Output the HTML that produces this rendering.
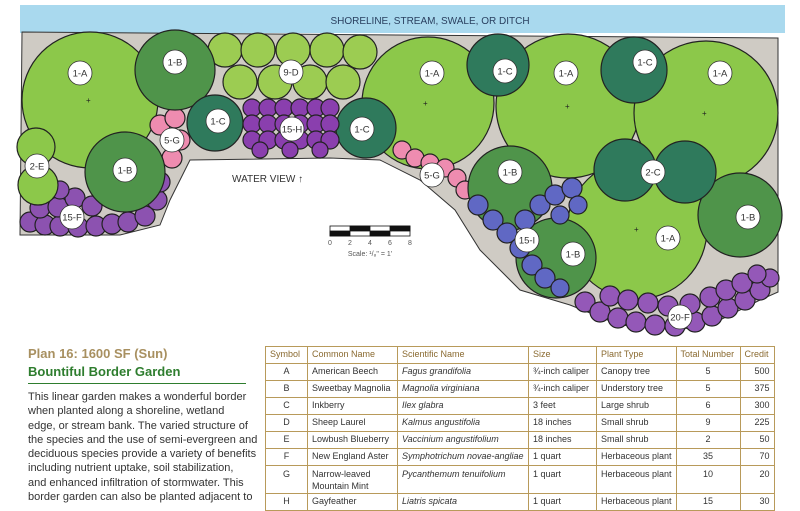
<!DOCTYPE html>
<html><head><meta charset="utf-8"><style>
body{margin:0;width:800px;height:500px;overflow:hidden;background:#fff;font-family:"Liberation Sans",sans-serif;position:relative}
svg{position:absolute;left:0;top:0}
.t1{position:absolute;left:28px;top:346px;font-size:13px;font-weight:bold;color:#a89060}
.t2{position:absolute;left:28px;top:364px;font-size:13px;font-weight:bold;color:#2e7d2e}
.ln{position:absolute;left:28px;top:383px;width:218px;height:1px;background:#2e7d2e}
.body{position:absolute;left:28px;top:390px;width:230px;font-size:11px;line-height:14.3px;color:#333;white-space:nowrap}
table{position:absolute;left:265px;top:346px;border-collapse:collapse;font-size:9px;color:#333;table-layout:fixed}
td,th{border:1px solid #b89a5a;padding:0 4px;height:16px;vertical-align:top;line-height:15px;white-space:nowrap;overflow:hidden;box-sizing:border-box}
tr{height:17px}
th{font-weight:normal;color:#8a6a30;text-align:left}
td.c{text-align:center}td.r{text-align:right}i{font-style:italic}
tr.g td{line-height:12px;padding-top:2px;height:28px}
</style></head><body>
<svg width="800" height="345" viewBox="0 0 800 345">
<rect x="0" y="0" width="800" height="345" fill="#fff"/>
<rect x="20" y="5" width="765" height="28" fill="#a9d9ee"/>
<text x="430" y="24" font-size="10" fill="#2a4060" text-anchor="middle" font-family="Liberation Sans">SHORELINE, STREAM, SWALE, OR DITCH</text>
<path d="M22,32 L778,38 L778,292 L760,300 L720,320 L680,330 L620,325 L570,305 L520,290 L480,250 L455,210 L420,180 L380,160 L330,158 L190,160 L170,200 L160,225 L120,235 L20,235 Z" fill="#cfcbc4" stroke="#333" stroke-width="1"/>
<g stroke="#222" stroke-width="1.2">
<g fill="#8c52b0">
<circle cx="30" cy="222" r="10"/><circle cx="45" cy="225" r="10"/><circle cx="60" cy="226" r="10"/><circle cx="78" cy="227" r="10"/><circle cx="96" cy="226" r="10"/><circle cx="112" cy="224" r="10"/><circle cx="128" cy="222" r="10"/><circle cx="145" cy="216" r="10"/><circle cx="157" cy="200" r="10"/><circle cx="160" cy="182" r="10"/>
<circle cx="40" cy="208" r="10"/><circle cx="58" cy="207" r="10"/><circle cx="75" cy="198" r="10"/><circle cx="92" cy="206" r="10"/><circle cx="60" cy="190" r="9"/></g>
<g fill="#8cc84a">
<circle cx="90" cy="100" r="68"/>
<circle cx="428" cy="103" r="66"/>
<circle cx="568" cy="106" r="72"/>
<circle cx="706" cy="113" r="72"/>
<circle cx="637" cy="229" r="70"/>
<circle cx="36" cy="147" r="19"/><circle cx="38" cy="185" r="20"/>
</g>
<g fill="#9ccc52">
<circle cx="225" cy="50" r="17"/><circle cx="258" cy="50" r="17"/><circle cx="293" cy="50" r="17"/><circle cx="327" cy="50" r="17"/><circle cx="360" cy="52" r="17"/>
<circle cx="240" cy="82" r="17"/><circle cx="275" cy="82" r="17"/><circle cx="310" cy="82" r="17"/><circle cx="343" cy="82" r="17"/></g>
<g fill="#ee8cb0">
<circle cx="160" cy="125" r="10"/><circle cx="175" cy="118" r="10"/><circle cx="180" cy="140" r="10"/><circle cx="172" cy="158" r="10"/>
<circle cx="402" cy="150" r="9"/><circle cx="415" cy="158" r="9"/><circle cx="430" cy="163" r="9"/><circle cx="445" cy="168" r="9"/><circle cx="457" cy="178" r="9"/><circle cx="465" cy="190" r="9"/></g>
<g fill="#4f944a">
<circle cx="175" cy="70" r="40"/>
<circle cx="125" cy="172" r="40"/>
<circle cx="510" cy="188" r="42"/>
<circle cx="740" cy="215" r="42"/>
<circle cx="556" cy="258" r="40"/></g>
<g fill="#2f7a5c">
<circle cx="215" cy="123" r="28"/>
<circle cx="366" cy="128" r="30"/>
<circle cx="498" cy="65" r="31"/>
<circle cx="634" cy="70" r="33"/>
<circle cx="625" cy="170" r="31"/>
<circle cx="685" cy="172" r="31"/></g>
<g fill="#8a3fae">
<circle cx="252" cy="108" r="9"/><circle cx="268" cy="108" r="9"/><circle cx="284" cy="108" r="9"/><circle cx="300" cy="108" r="9"/><circle cx="316" cy="108" r="9"/><circle cx="330" cy="108" r="9"/>
<circle cx="252" cy="124" r="9"/><circle cx="268" cy="124" r="9"/><circle cx="284" cy="124" r="9"/><circle cx="300" cy="124" r="9"/><circle cx="316" cy="124" r="9"/><circle cx="330" cy="124" r="9"/>
<circle cx="252" cy="140" r="9"/><circle cx="268" cy="140" r="9"/><circle cx="284" cy="140" r="9"/><circle cx="300" cy="140" r="9"/><circle cx="316" cy="140" r="9"/><circle cx="330" cy="140" r="9"/>
<circle cx="260" cy="150" r="8"/><circle cx="290" cy="150" r="8"/><circle cx="320" cy="150" r="8"/></g>
<g fill="#6068c4">
<circle cx="478" cy="205" r="10"/><circle cx="493" cy="220" r="10"/><circle cx="507" cy="233" r="10"/><circle cx="520" cy="248" r="10"/><circle cx="532" cy="265" r="10"/><circle cx="545" cy="278" r="10"/><circle cx="560" cy="288" r="9"/>
<circle cx="525" cy="220" r="10"/><circle cx="540" cy="205" r="10"/><circle cx="555" cy="195" r="10"/><circle cx="572" cy="188" r="10"/><circle cx="578" cy="205" r="9"/><circle cx="560" cy="215" r="9"/></g>
<g fill="#9458b8">
<circle cx="585" cy="302" r="10"/><circle cx="600" cy="312" r="10"/><circle cx="618" cy="318" r="10"/><circle cx="636" cy="322" r="10"/><circle cx="655" cy="325" r="10"/><circle cx="675" cy="326" r="10"/><circle cx="695" cy="322" r="10"/><circle cx="712" cy="316" r="10"/><circle cx="728" cy="308" r="10"/><circle cx="745" cy="300" r="10"/><circle cx="760" cy="290" r="10"/><circle cx="770" cy="278" r="9"/>
<circle cx="610" cy="296" r="10"/><circle cx="628" cy="300" r="10"/><circle cx="648" cy="303" r="10"/><circle cx="668" cy="306" r="10"/><circle cx="690" cy="304" r="10"/><circle cx="710" cy="297" r="10"/><circle cx="726" cy="290" r="10"/><circle cx="742" cy="283" r="10"/><circle cx="757" cy="274" r="9"/></g>
</g>
<g font-size="8" fill="#222"><text x="86" y="103">+</text><text x="423" y="106">+</text><text x="565" y="109">+</text><text x="702" y="116">+</text><text x="634" y="232">+</text></g>
<g fill="#fff" stroke="#333" stroke-width="0.8">
<circle cx="80" cy="73" r="12"/><circle cx="175" cy="62" r="12"/><circle cx="291" cy="72" r="12"/><circle cx="218" cy="121" r="12"/><circle cx="292" cy="129" r="12"/><circle cx="362" cy="129" r="12"/><circle cx="172" cy="140" r="12"/><circle cx="37" cy="166" r="12"/><circle cx="125" cy="170" r="12"/><circle cx="72" cy="217" r="12"/>
<circle cx="432" cy="73" r="12"/><circle cx="505" cy="71" r="12"/><circle cx="566" cy="73" r="12"/><circle cx="645" cy="62" r="12"/><circle cx="720" cy="73" r="12"/><circle cx="432" cy="175" r="12"/><circle cx="510" cy="172" r="12"/><circle cx="653" cy="172" r="12"/><circle cx="748" cy="217" r="12"/><circle cx="668" cy="238" r="12"/><circle cx="527" cy="240" r="12"/><circle cx="573" cy="254" r="12"/><circle cx="680" cy="317" r="12"/></g>
<g font-size="9.5" fill="#333" text-anchor="middle" font-family="Liberation Sans">
<text x="80" y="76.5">1-A</text><text x="175" y="65.5">1-B</text><text x="291" y="75.5">9-D</text><text x="218" y="124.5">1-C</text><text x="292" y="132.5">15-H</text><text x="362" y="132.5">1-C</text><text x="172" y="143.5">5-G</text><text x="37" y="169.5">2-E</text><text x="125" y="173.5">1-B</text><text x="72" y="220.5">15-F</text>
<text x="432" y="76.5">1-A</text><text x="505" y="74.5">1-C</text><text x="566" y="76.5">1-A</text><text x="645" y="65.5">1-C</text><text x="720" y="76.5">1-A</text><text x="432" y="178.5">5-G</text><text x="510" y="175.5">1-B</text><text x="653" y="175.5">2-C</text><text x="748" y="220.5">1-B</text><text x="668" y="241.5">1-A</text><text x="527" y="243.5">15-I</text><text x="573" y="257.5">1-B</text><text x="680" y="320.5">20-F</text></g>
<text x="232" y="182" font-size="10" fill="#333" font-family="Liberation Sans">WATER VIEW ↑</text>
<g stroke="#111" stroke-width="0.8">
<rect x="330" y="226" width="80" height="10" fill="#fff"/>
<rect x="330" y="231" width="20" height="5" fill="#111"/><rect x="350" y="226" width="20" height="5" fill="#111"/><rect x="370" y="231" width="20" height="5" fill="#111"/><rect x="390" y="226" width="20" height="5" fill="#111"/></g>
<g font-size="7" fill="#555" text-anchor="middle" font-family="Liberation Sans"><text x="330" y="245">0</text><text x="350" y="245">2</text><text x="370" y="245">4</text><text x="390" y="245">6</text><text x="410" y="245">8</text><text x="370" y="256">Scale: ¹/₈" = 1'</text></g>
</svg>
<div class="t1">Plan 16: 1600 SF (Sun)</div>
<div class="t2">Bountiful Border Garden</div>
<div class="ln"></div>
<div class="body">This linear garden makes a wonderful border<br>when planted along a shoreline, wetland<br>edge, or stream bank. The varied structure of<br>the species and the use of semi-evergreen and<br>deciduous species provide a variety of benefits<br>including nutrient uptake, soil stabilization,<br>and enhanced infiltration of stormwater. This<br>border garden can also be planted adjacent to</div>
<table>
<colgroup><col style="width:42px"><col style="width:90px"><col style="width:131px"><col style="width:68px"><col style="width:76px"><col style="width:64px"><col style="width:34px"></colgroup>
<tr><th>Symbol</th><th>Common Name</th><th>Scientific Name</th><th>Size</th><th>Plant Type</th><th>Total Number</th><th>Credit</th></tr>
<tr><td class="c">A</td><td>American Beech</td><td><i>Fagus grandifolia</i></td><td>¾-inch caliper</td><td>Canopy tree</td><td class="c">5</td><td class="r">500</td></tr>
<tr><td class="c">B</td><td>Sweetbay Magnolia</td><td><i>Magnolia virginiana</i></td><td>¾-inch caliper</td><td>Understory tree</td><td class="c">5</td><td class="r">375</td></tr>
<tr><td class="c">C</td><td>Inkberry</td><td><i>Ilex glabra</i></td><td>3 feet</td><td>Large shrub</td><td class="c">6</td><td class="r">300</td></tr>
<tr><td class="c">D</td><td>Sheep Laurel</td><td><i>Kalmus angustifolia</i></td><td>18 inches</td><td>Small shrub</td><td class="c">9</td><td class="r">225</td></tr>
<tr><td class="c">E</td><td>Lowbush Blueberry</td><td><i>Vaccinium angustifolium</i></td><td>18 inches</td><td>Small shrub</td><td class="c">2</td><td class="r">50</td></tr>
<tr><td class="c">F</td><td>New England Aster</td><td><i>Symphotrichum novae-angliae</i></td><td>1 quart</td><td>Herbaceous plant</td><td class="c">35</td><td class="r">70</td></tr>
<tr class="g"><td class="c">G</td><td>Narrow-leaved<br>Mountain Mint</td><td><i>Pycanthemum tenuifolium</i></td><td>1 quart</td><td>Herbaceous plant</td><td class="c">10</td><td class="r">20</td></tr>
<tr><td class="c">H</td><td>Gayfeather</td><td><i>Liatris spicata</i></td><td>1 quart</td><td>Herbaceous plant</td><td class="c">15</td><td class="r">30</td></tr>
</table>
</body></html>
